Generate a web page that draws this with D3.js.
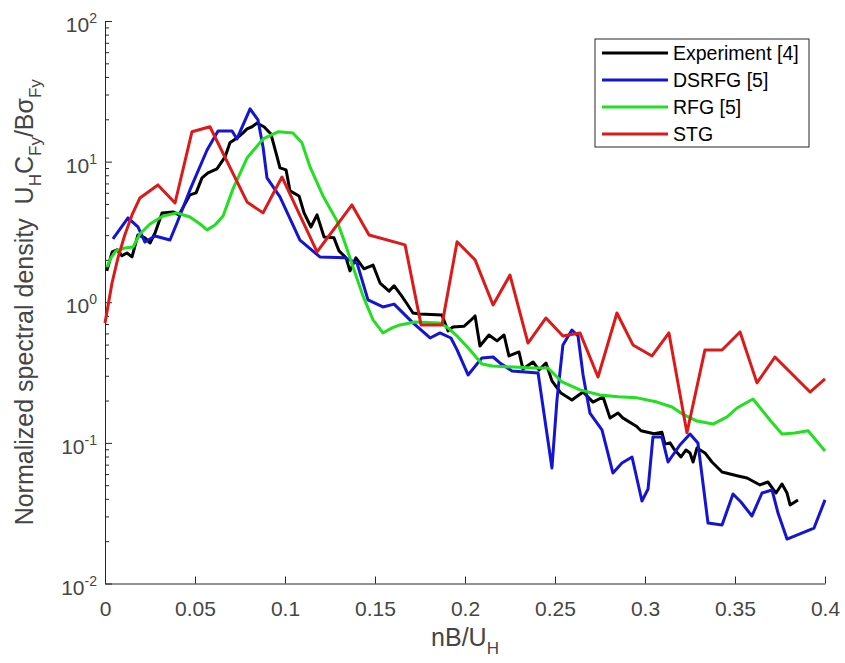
<!DOCTYPE html>
<html>
<head>
<meta charset="utf-8">
<style>
  body { margin: 0; background: #fff; }
  svg { font-family: "Liberation Sans", Arial, sans-serif; }
</style>
</head>
<body>
<div id="vis"></div>
<script src="https://d3js.org/d3.v7.min.js"></script>
<script>
// ---- data ----
// Experiment [4]
let expX = [0.001,0.004,0.0067,0.0094,0.0122,0.015,0.0183,0.0222,0.025,0.0278,0.0317,0.0378,0.0411,0.0472,0.0506,0.0539,0.0572,0.0622,0.0667,0.0694,0.0733,0.0767,0.0789,0.0817,0.0844,0.0883,0.0922,0.0956,0.0972,0.1006,0.1028,0.1078,0.1106,0.1144,0.1178,0.1217,0.1272,0.13,0.1339,0.1361,0.1394,0.1439,0.1489,0.1528,0.1578,0.1606,0.1644,0.1672,0.1711,0.175,0.1872,0.1906,0.1933,0.1994,0.2028,0.2056,0.2083,0.2133,0.2178,0.2217,0.2244,0.23,0.2322,0.2378,0.2411,0.245,0.2483,0.2533,0.2594,0.2656,0.2711,0.2767,0.2806,0.285,0.2878,0.295,0.2978,0.305,0.3094,0.3111,0.3139,0.3161,0.32,0.3228,0.325,0.3267,0.3289,0.3333,0.3372,0.3428,0.3517,0.3567,0.3639,0.3683,0.3728,0.3761,0.3789,0.3806,0.385];
let expY = [1.67,2.28,2.36,2.14,2.24,2.10,3.01,2.87,2.64,3.11,4.32,4.39,4.18,5.80,5.99,7.66,8.31,8.87,10.8,13.6,14.7,16.0,17.1,17.7,18.8,17.7,15.7,10.8,9.02,8.73,6.19,5.70,4.32,3.43,4.18,2.91,2.87,2.32,2.07,1.67,2.07,1.73,1.84,1.37,1.20,1.31,1.13,1.00,0.839,0.826,0.812,0.625,0.667,0.674,0.736,0.799,0.489,0.585,0.531,0.585,0.415,0.443,0.335,0.376,0.330,0.370,0.276,0.226,0.202,0.230,0.195,0.212,0.150,0.163,0.150,0.132,0.122,0.116,0.119,0.098,0.100,0.0905,0.0794,0.089,0.0848,0.0731,0.092,0.0848,0.0731,0.0621,0.0582,0.0563,0.0502,0.0527,0.044,0.051,0.044,0.0362,0.0393];

// DSRFG [5]
let dsrfgX = [0.0044,0.0128,0.0183,0.0222,0.0278,0.0361,0.04,0.0472,0.0567,0.0628,0.0706,0.0733,0.0806,0.085,0.0878,0.09,0.0972,0.1083,0.1194,0.1333,0.14,0.1461,0.1544,0.1606,0.1711,0.1806,0.1861,0.1922,0.1956,0.2017,0.2094,0.2156,0.2194,0.2261,0.2406,0.2483,0.2511,0.2544,0.2594,0.2628,0.2656,0.2694,0.2761,0.2822,0.2872,0.2928,0.2983,0.3017,0.3044,0.3094,0.3128,0.3194,0.325,0.3294,0.335,0.3428,0.3489,0.3533,0.3594,0.365,0.3706,0.3739,0.3789,0.3939,0.4];
let dsrfgY = [2.82,3.98,3.43,2.68,2.96,2.77,3.66,6.29,12.1,16.5,16.5,14.5,23.7,19.8,12.7,7.66,5.61,2.77,2.10,2.07,1.90,1.04,0.926,0.97,0.713,0.557,0.605,0.557,0.458,0.304,0.402,0.408,0.370,0.325,0.314,0.0663,0.202,0.497,0.635,0.576,0.304,0.163,0.1235,0.061,0.072,0.0794,0.0386,0.047,0.110,0.110,0.0731,0.0966,0.1157,0.0998,0.0269,0.0261,0.0433,0.038,0.0302,0.044,0.0462,0.0317,0.0207,0.0248,0.0393];

// RFG [5]
let rfgX = [0.0011,0.0033,0.0061,0.0111,0.0156,0.0194,0.025,0.0322,0.04,0.0472,0.0528,0.0567,0.0611,0.0656,0.0711,0.0789,0.0878,0.0961,0.1044,0.1094,0.1139,0.1211,0.1289,0.1333,0.1378,0.1433,0.1489,0.1544,0.1594,0.1639,0.1722,0.1861,0.1906,0.1961,0.2028,0.2094,0.215,0.2267,0.2378,0.2461,0.2539,0.2639,0.275,0.285,0.2956,0.3067,0.315,0.3206,0.3289,0.3378,0.3456,0.3511,0.36,0.3694,0.3761,0.3833,0.3906,0.4];
let rfgY = [1.78,2.07,2.32,2.43,2.47,3.06,3.60,4.11,4.32,4.04,3.60,3.27,3.54,4.11,6.40,10.6,14.5,16.3,16.0,13.6,9.17,5.70,3.79,2.64,1.78,1.11,0.749,0.605,0.657,0.690,0.724,0.713,0.657,0.567,0.458,0.364,0.352,0.346,0.341,0.341,0.271,0.238,0.219,0.213,0.209,0.195,0.180,0.161,0.143,0.136,0.153,0.177,0.205,0.1455,0.1157,0.1176,0.122,0.0876];

// STG
let stgX = [0,0.0039,0.0072,0.011,0.015,0.0194,0.0294,0.0389,0.0483,0.0583,0.0789,0.0878,0.0983,0.1178,0.1372,0.1467,0.1667,0.1756,0.1872,0.1956,0.2056,0.2156,0.225,0.235,0.245,0.2544,0.2639,0.2739,0.2844,0.2933,0.3039,0.3133,0.3233,0.3333,0.3428,0.3528,0.3622,0.3722,0.3917,0.4];
let stgY = [0.713,1.37,2.07,3.01,4.18,5.52,6.83,5.08,16.3,17.7,5.17,4.32,7.78,2.28,4.92,3.01,2.56,0.69,0.69,2.69,2.0,0.957,1.56,0.513,0.773,0.576,0.605,0.294,0.839,0.497,0.415,0.605,0.118,0.458,0.458,0.615,0.267,0.408,0.230,0.285];

let seriesNames = ["Experiment [4]", "DSRFG [5]", "RFG [5]", "STG"];
let seriesColors = ["#000000", "#1414d4", "#20e020", "#dc1a1a"];

let xTicks = [0, 0.05, 0.1, 0.15, 0.2, 0.25, 0.3, 0.35, 0.4];
let xTickLabels = ["0", "0.05", "0.1", "0.15", "0.2", "0.25", "0.3", "0.35", "0.4"];
let yTicks = [0.01, 0.1, 1, 10, 100];
let yTickExp = ["-2", "-1", "0", "1", "2"];

// ---- layout ----
let W = 845, H = 663;
let margin = {top: 21, right: 20, bottom: 79.5, left: 105};
let width = W - margin.left - margin.right,
    height = H - margin.top - margin.bottom;

let svg = d3.select("#vis").append("svg")
    .attr("width", W)
    .attr("height", H);

let g = svg.append("g")
    .attr("transform", "translate(" + margin.left + "," + margin.top + ")");

let x = d3.scaleLinear().domain([0, 0.4]).range([0, width]);
let y = d3.scaleLog().domain([0.01, 100]).range([height, 0]);

let axisColor = "#262626";
let labelColor = "#454545";

// minor ticks on log axis
let minor = [];
[0.01, 0.1, 1, 10].forEach(function (d) {
    for (let k = 2; k <= 9; k++) minor.push(d * k);
});
g.append("g")
    .call(d3.axisLeft(y).tickValues(minor).tickSize(-4).tickFormat(""))
    .call(s => s.select(".domain").remove())
    .selectAll("line").attr("stroke", axisColor);

// y axis
let yAx = g.append("g")
    .call(d3.axisLeft(y).tickValues(yTicks).tickSizeInner(-7).tickSizeOuter(0).tickFormat(""));
yAx.selectAll("line, path").attr("stroke", axisColor);

yTicks.forEach(function (d, i) {
    let t = g.append("text")
        .attr("x", -8)
        .attr("y", y(d) + 11)
        .attr("text-anchor", "end")
        .attr("fill", labelColor)
        .style("font-size", "21px");
    t.append("tspan").text("10");
    t.append("tspan").attr("dy", -9).style("font-size", "14px").text(yTickExp[i]);
});

// x axis
let xAx = g.append("g")
    .attr("transform", "translate(0," + height + ")")
    .call(d3.axisBottom(x).tickValues(xTicks).tickSizeInner(-7).tickSizeOuter(0)
        .tickPadding(18).tickFormat((d, i) => xTickLabels[i]));
xAx.selectAll("line, path").attr("stroke", axisColor);
xAx.selectAll("text")
    .attr("fill", labelColor)
    .style("font-size", "21px")
    .style("font-family", "'Liberation Sans', Arial, sans-serif");

// axis labels
let xl = svg.append("text")
    .attr("x", margin.left + width / 2)
    .attr("y", 646)
    .attr("text-anchor", "middle")
    .attr("fill", labelColor)
    .style("font-size", "25px");
xl.append("tspan").text("nB/U");
xl.append("tspan").attr("dy", 8).style("font-size", "17px").text("H");

let yl = svg.append("text")
    .attr("transform", "translate(33," + (margin.top + height / 2) + ") rotate(-90)")
    .attr("text-anchor", "middle")
    .attr("fill", labelColor)
    .style("font-size", "25px")
    .style("white-space", "pre");
yl.append("tspan").text("Normalized spectral density  U");
yl.append("tspan").attr("dy", 8).style("font-size", "17px").text("H");
yl.append("tspan").attr("dy", -8).text("C");
yl.append("tspan").attr("dy", 8).style("font-size", "17px").text("Fy");
yl.append("tspan").attr("dy", -8).text("/B\u03c3");
yl.append("tspan").attr("dy", 8).style("font-size", "17px").text("Fy");

// lines
let allSeries = [
    {x: expX, y: expY},
    {x: dsrfgX, y: dsrfgY},
    {x: rfgX, y: rfgY},
    {x: stgX, y: stgY}
];
let line = d3.line()
    .x(d => x(d[0]))
    .y(d => y(d[1]));

allSeries.forEach(function (s, i) {
    let pts = s.x.map((v, j) => [v, s.y[j]]);
    g.append("path")
        .datum(pts)
        .attr("fill", "none")
        .attr("stroke", seriesColors[i])
        .attr("stroke-width", 3)
        .attr("stroke-linejoin", "round")
        .attr("d", line);
});

// legend
let lg = svg.append("g").attr("transform", "translate(595,39)");
lg.append("rect")
    .attr("width", 214)
    .attr("height", 108)
    .attr("fill", "#fff")
    .attr("stroke", axisColor)
    .attr("stroke-width", 1);
seriesNames.forEach(function (name, i) {
    let yy = 14 + i * 27;
    lg.append("line")
        .attr("x1", 7).attr("x2", 73)
        .attr("y1", yy).attr("y2", yy)
        .attr("stroke", seriesColors[i])
        .attr("stroke-width", 3);
    lg.append("text")
        .attr("x", 78)
        .attr("y", yy)
        .attr("dy", "0.35em")
        .attr("fill", "#000")
        .style("font-size", "19.5px")
        .text(name);
});
</script>
</body>
</html>
